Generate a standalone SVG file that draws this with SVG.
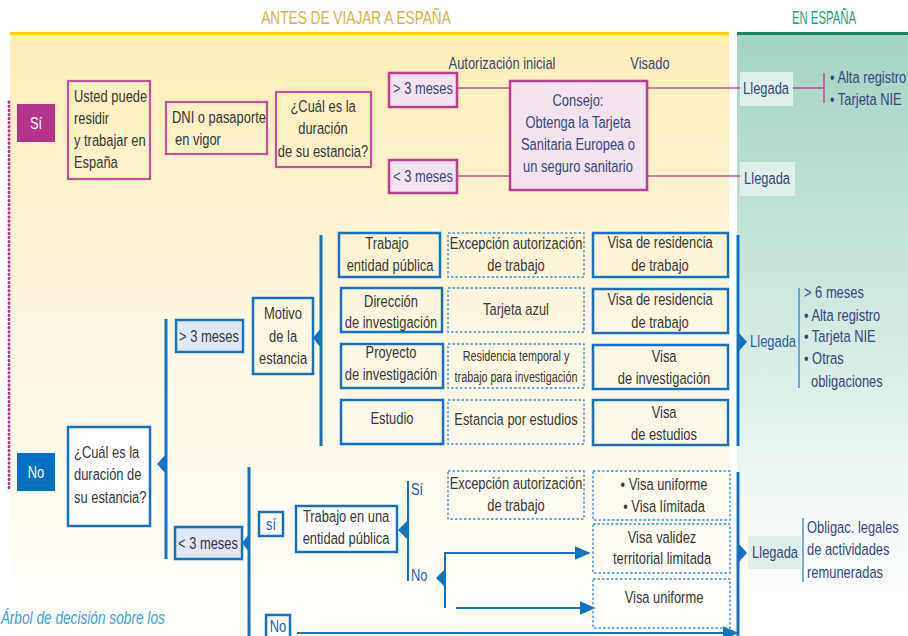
<svg xmlns="http://www.w3.org/2000/svg" width="908" height="636" viewBox="0 0 908 636">
<defs>
<linearGradient id="gy" x1="0" y1="0" x2="0" y2="1">
<stop offset="0" stop-color="#fdedb8"/>
<stop offset="0.5" stop-color="#fef7e2"/>
<stop offset="1" stop-color="#fffefb"/>
</linearGradient>
<linearGradient id="gg" x1="0" y1="0" x2="0" y2="1">
<stop offset="0" stop-color="#a3d3c4"/>
<stop offset="0.5" stop-color="#d3ebe3"/>
<stop offset="0.8" stop-color="#f4faf8"/>
<stop offset="1" stop-color="#ffffff"/>
</linearGradient>
<marker id="ah" viewBox="0 0 10 10" refX="9" refY="5" markerWidth="16" markerHeight="14" markerUnits="userSpaceOnUse" orient="auto" preserveAspectRatio="none">
<path d="M0,0 L10,5 L0,10 z" fill="#1572c0"/>
</marker>
<style>
text{font-family:"Liberation Sans",Arial,sans-serif;font-size:17px;fill:#363636;transform-box:fill-box;transform-origin:0% 50%;transform:scaleX(0.76)}
.c{text-anchor:middle;transform-origin:50% 50%}
.nv{fill:#37467a}
.bl{fill:#2a5ca8}
.sm{font-size:15px;transform:scaleX(0.72)}
.mb{fill:none;stroke:#c0549c;stroke-width:2.2}
.pk{fill:#f3e3ef;stroke:#b83e91;stroke-width:2.5}
.ml{stroke:#c0549c;stroke-width:1.6;fill:none}
.bb{fill:none;stroke:#1572c0;stroke-width:2.5}
.bw{fill:#ffffff;stroke:#1572c0;stroke-width:2.5}
.bf{fill:#dfe7f6;stroke:#1572c0;stroke-width:2.5}
.dd{fill:none;stroke:#3a8fd6;stroke-width:1.4;stroke-dasharray:2.5,2}
.bar{stroke:#1572c0;stroke-width:3;fill:none}
.thin{stroke:#1572c0;stroke-width:2;fill:none}
.ln{stroke:#1572c0;stroke-width:1.8;fill:none}
.tri{fill:#1572c0}
.brk{stroke:#4a92d0;stroke-width:1.5;fill:none}
</style>
</defs>

<!-- backgrounds -->
<rect x="10" y="34" width="719" height="602" fill="url(#gy)"/>
<rect x="737" y="34" width="171" height="602" fill="url(#gg)"/>
<line x1="10" y1="33.5" x2="729" y2="33.5" stroke="#ffd500" stroke-width="3"/>
<line x1="737" y1="33.5" x2="908" y2="33.5" stroke="#0e8a5f" stroke-width="3"/>
<text x="356" y="24" class="c" style="font-size:18px;fill:#d4b24a">ANTES DE VIAJAR A ESPAÑA</text>
<text x="824" y="24" class="c" style="font-size:18px;fill:#1aa07a;transform:scaleX(0.63)">EN ESPAÑA</text>
<line x1="9" y1="102" x2="9" y2="490" stroke="#b5338a" stroke-width="2.8" stroke-linecap="round" stroke-dasharray="0.5,3.6"/>
<text x="1" y="624" style="font-size:19px;font-style:italic;fill:#3ba3cf;transform:scaleX(0.72)">Árbol de decisión sobre los</text>

<!-- connectors -->
<g id="connectors">
<line class="ml" x1="457" y1="88" x2="510" y2="88"/>
<line class="ml" x1="457" y1="176" x2="510" y2="176"/>
<line class="ml" x1="647" y1="88" x2="740" y2="88"/>
<line class="ml" x1="647" y1="176" x2="740" y2="176"/>
<line class="ml" x1="793" y1="88" x2="824" y2="88"/>
<line class="ml" x1="824" y1="73" x2="824" y2="103"/>
<!-- No branch -->
<line class="bar" x1="166" y1="319" x2="166" y2="559"/>
<path class="tri" d="M157,464 L166,454 L166,474 z"/>
<path class="tri" d="M242,543 L250,533 L250,553 z"/>
<line class="bar" x1="321" y1="235" x2="321" y2="446"/>
<path class="tri" d="M313,338 L321,328 L321,348 z"/>
<line class="bar" x1="738" y1="235" x2="738" y2="446"/>
<path class="tri" d="M747,342 L738,332 L738,352 z"/>
<line class="brk" x1="799" y1="288" x2="799" y2="388"/>
<line class="bar" x1="249" y1="467" x2="249" y2="636"/>
<line class="thin" x1="408" y1="481" x2="408" y2="581"/>
<path class="tri" d="M398,530 L408,520 L408,540 z"/>
<line class="thin" x1="445" y1="552" x2="445" y2="608"/>
<path class="tri" d="M436,578 L445,569 L445,587 z"/>
<line class="ln" x1="446" y1="553" x2="589" y2="553" marker-end="url(#ah)"/>
<line class="ln" x1="456" y1="608" x2="594" y2="608" marker-end="url(#ah)"/>
<line class="ln" x1="297" y1="633" x2="737" y2="633" marker-end="url(#ah)"/>
<line class="bar" x1="738" y1="472" x2="738" y2="636"/>
<path class="tri" d="M747,553 L738,543 L738,563 z"/>
<line class="brk" x1="803" y1="518" x2="803" y2="582"/>
</g>

<!-- Sí section -->
<g id="si"><rect x="17" y="104" width="38" height="38" fill="#b5338a"/><text x="36" y="129" class="c" style="fill:#ffffff">Sí</text></g>
<g id="usted"><rect class="mb" x="68" y="81" width="82" height="98"/>
<text x="74" y="102">Usted puede</text><text x="74" y="124">residir</text><text x="74" y="146">y trabajar en</text><text x="74" y="168">España</text></g>
<g id="dni"><rect class="mb" x="166" y="102" width="101" height="52"/>
<text x="172" y="123">DNI o pasaporte</text><text x="175" y="145">en vigor</text></g>
<g id="cual1"><rect class="mb" x="276" y="92" width="95" height="75"/>
<text x="323" y="112" class="c">¿Cuál es la</text><text x="323" y="134" class="c">duración</text><text x="323" y="157" class="c">de su estancia?</text></g>
<text x="502" y="69" class="c nv">Autorización inicial</text>
<text x="650" y="69" class="c nv">Visado</text>
<g id="mas3a"><rect class="pk" x="389" y="73" width="68" height="34"/><text x="423" y="94" class="c nv">&gt; 3 meses</text></g>
<g id="menos3a"><rect class="pk" x="389" y="160" width="68" height="33"/><text x="423" y="182" class="c nv">&lt; 3 meses</text></g>
<g id="consejo"><rect class="pk" x="510" y="81" width="137" height="109"/>
<text x="578" y="106" class="c nv">Consejo:</text><text x="578" y="128" class="c nv">Obtenga la Tarjeta</text><text x="578" y="150" class="c nv">Sanitaria Europea o</text><text x="578" y="172" class="c nv">un seguro sanitario</text></g>
<g id="llegada1"><rect x="740" y="72" width="53" height="34" fill="#dff0ea"/><text x="766" y="94" class="c nv">Llegada</text></g>
<g id="alta1"><text x="830" y="83" class="nv">• Alta registro</text><text x="830" y="105" class="nv">• Tarjeta NIE</text></g>
<g id="llegada2"><rect x="740" y="162" width="55" height="34" fill="#dff0ea"/><text x="767" y="184" class="c nv">Llegada</text></g>

<!-- No section -->
<g id="no"><rect x="17" y="453" width="38" height="38" fill="#0070c0"/><text x="36" y="478" class="c" style="fill:#ffffff">No</text></g>
<g id="cual2"><rect class="bw" x="68" y="427" width="82" height="99"/>
<text x="74" y="458">¿Cuál es la</text><text x="74" y="480">duración de</text><text x="74" y="503">su estancia?</text></g>
<g id="mas3b"><rect class="bf" x="176" y="320" width="67" height="32"/><text x="209" y="342" class="c">&gt; 3 meses</text></g>
<g id="motivo"><rect class="bb" x="253" y="298" width="60" height="76"/>
<text x="283" y="319" class="c">Motivo</text><text x="283" y="342" class="c">de la</text><text x="283" y="364" class="c">estancia</text></g>

<g id="r1a"><rect class="bb" x="339" y="233" width="101" height="44"/><text x="387" y="249" class="c">Trabajo</text><text x="390" y="271" class="c">entidad pública</text></g>
<g id="r1b"><rect class="dd" x="448" y="233" width="136" height="44"/><text x="516" y="249" class="c">Excepción autorización</text><text x="516" y="271" class="c">de trabajo</text></g>
<g id="r1c"><rect class="bb" x="593" y="233" width="135" height="44"/><text x="660" y="248" class="c">Visa de residencia</text><text x="660" y="271" class="c">de trabajo</text></g>

<g id="r2a"><rect class="bb" x="341" y="288" width="101" height="44"/><text x="391" y="307" class="c">Dirección</text><text x="391" y="328" class="c">de investigación</text></g>
<g id="r2b"><rect class="dd" x="448" y="288" width="136" height="44"/><text x="516" y="315" class="c">Tarjeta azul</text></g>
<g id="r2c"><rect class="bb" x="593" y="289" width="135" height="44"/><text x="660" y="305" class="c">Visa de residencia</text><text x="660" y="328" class="c">de trabajo</text></g>

<g id="r3a"><rect class="bb" x="341" y="344" width="102" height="44"/><text x="391" y="358" class="c">Proyecto</text><text x="391" y="380" class="c">de investigación</text></g>
<g id="r3b"><rect class="dd" x="448" y="344" width="136" height="44"/><text x="516" y="361" class="c sm">Residencia temporal y</text><text x="516" y="382" class="c sm">trabajo para investigación</text></g>
<g id="r3c"><rect class="bb" x="593" y="345" width="135" height="44"/><text x="664" y="362" class="c">Visa</text><text x="664" y="384" class="c">de investigación</text></g>

<g id="r4a"><rect class="bb" x="341" y="400" width="102" height="44"/><text x="392" y="424" class="c">Estudio</text></g>
<g id="r4b"><rect class="dd" x="448" y="400" width="136" height="44"/><text x="516" y="425" class="c">Estancia por estudios</text></g>
<g id="r4c"><rect class="bb" x="593" y="400" width="135" height="45"/><text x="664" y="418" class="c">Visa</text><text x="664" y="440" class="c">de estudios</text></g>

<g id="llegada3"><text x="773" y="347" class="c bl">Llegada</text></g>
<g id="list3"><text x="804" y="298" class="nv">&gt; 6 meses</text><text x="804" y="321" class="nv">• Alta registro</text><text x="804" y="342" class="nv">• Tarjeta NIE</text><text x="804" y="364" class="nv">• Otras</text><text x="811" y="387" class="nv">obligaciones</text></g>

<g id="menos3b"><rect class="bf" x="175" y="527" width="67" height="32"/><text x="208" y="549" class="c">&lt; 3 meses</text></g>
<g id="si2"><rect class="bw" x="259" y="512" width="24" height="24"/><text x="271" y="530" class="c bl">sí</text></g>
<g id="trabajo"><rect class="bw" x="296" y="506" width="101" height="46"/><text x="346" y="522" class="c">Trabajo en una</text><text x="346" y="544" class="c">entidad pública</text></g>
<text x="411" y="495" class="bl">Sí</text>
<text x="411" y="581" class="bl">No</text>
<g id="l1"><rect class="dd" x="448" y="471" width="136" height="48"/><text x="516" y="489" class="c">Excepción autorización</text><text x="516" y="511" class="c">de trabajo</text></g>
<g id="l2"><rect class="dd" x="593" y="471" width="137" height="49"/><text x="664" y="490" class="c">• Visa uniforme</text><text x="664" y="512" class="c">• Visa límitada</text></g>
<g id="l3"><rect class="dd" x="593" y="524" width="137" height="49"/><text x="662" y="543" class="c">Visa validez</text><text x="662" y="564" class="c">territorial limitada</text></g>
<g id="l4"><rect class="dd" x="593" y="579" width="137" height="49"/><text x="664" y="603" class="c">Visa uniforme</text></g>
<g id="no2"><rect class="bw" x="266" y="615" width="24" height="26"/><text x="278" y="632" class="c bl">No</text></g>
<g id="llegada4"><rect x="748" y="536" width="53" height="33" fill="#dcefe8"/><text x="775" y="558" class="c nv">Llegada</text></g>
<g id="list4"><text x="807" y="533" class="nv">Obligac. legales</text><text x="807" y="555" class="nv">de actividades</text><text x="807" y="578" class="nv">remuneradas</text></g>
</svg>
